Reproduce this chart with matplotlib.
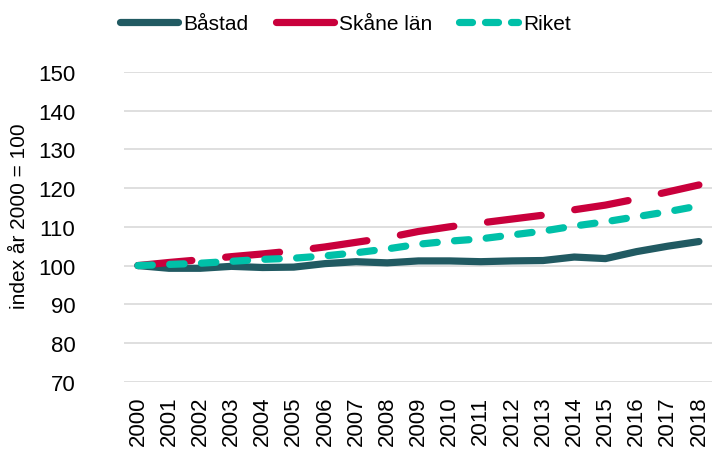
import matplotlib.pyplot as plt

plt.rcParams['font.family'] = ['Liberation Sans', 'DejaVu Sans']

years = list(range(2000, 2019))
bastad = [100, 99.3, 99.3, 99.8, 99.5, 99.6, 100.5, 101.0, 100.7, 101.2,
          101.2, 101.0, 101.2, 101.3, 102.2, 101.8, 103.6, 105.0, 106.2]
skane = [100, 100.8, 101.5, 102.3, 103.0, 103.8, 104.8, 106.0, 107.2, 108.8,
         110.0, 111.0, 112.0, 113.0, 114.4, 115.6, 117.2, 119.0, 120.8]
riket = [100, 100.3, 100.6, 101.1, 101.6, 101.9, 102.5, 103.3, 104.3, 105.5,
         106.3, 106.9, 107.9, 108.9, 110.2, 111.3, 112.6, 113.9, 115.4]

fig = plt.figure(figsize=(7.12, 4.52), dpi=100)
ax = fig.add_axes([0.174, 0.153, 0.826, 0.686])

lw = 5.2
ax.plot(years, bastad, color='#215a62', lw=lw, solid_capstyle='round',
        solid_joinstyle='round', label='Båstad')
ax.plot(years, skane, color='#c9003c', lw=lw, dashes=(7.5, 4.7),
        dash_capstyle='round', label='Skåne län')
ax.plot(years, riket, color='#00c0a8', lw=lw, dashes=(2.0, 2.4),
        dash_capstyle='round', label='Riket')

ax.set_ylim(70, 150)
ax.set_yticks(range(70, 151, 10))
ax.set_xlim(2000 - 0.45, 2018 + 0.42)
ax.set_xticks(years)
ax.set_xticklabels([str(y) for y in years], rotation=90, fontsize=16)
ax.tick_params(axis='y', labelsize=16, length=0, pad=35)
ax.tick_params(axis='x', length=0, pad=10)
ax.grid(axis='y', color='#d9d9d9', lw=1.2)
ax.set_axisbelow(True)
for s in ax.spines.values():
    s.set_visible(False)

fig.text(0.028, 0.522, 'index år 2000 = 100', rotation=90, fontsize=15,
         ha='center', va='center')

leg = fig.legend(loc='center', bbox_to_anchor=(0.485, 0.945), ncol=3,
                 frameon=False, fontsize=15, handlelength=2.8,
                 handletextpad=0.25, columnspacing=1.3)
hl = leg.get_lines()
hl[1].set_linestyle('-')
hl[1].set_solid_capstyle('round')
hl[2].set_dashes((1.8, 1.8))

fig.savefig('out.png', dpi=100)
